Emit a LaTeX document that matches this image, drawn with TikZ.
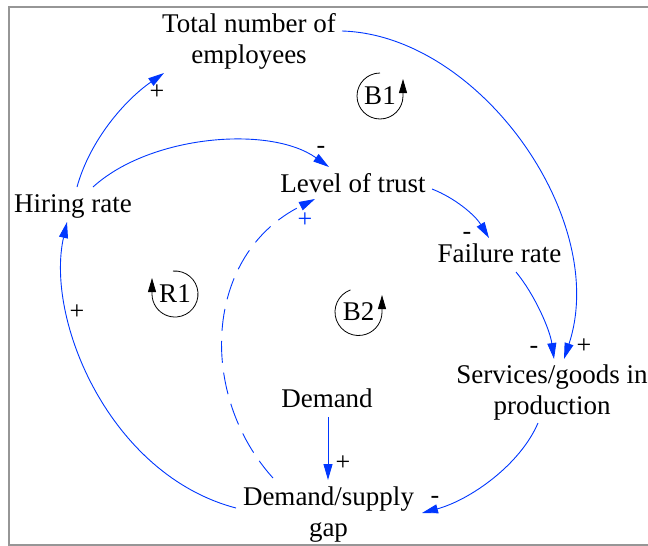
\documentclass[tikz,border=0pt]{standalone}
\usepackage{fontspec}
\setmainfont{Liberation Serif}
\usetikzlibrary{arrows.meta,calc}
\definecolor{linkblue}{RGB}{0,55,255}
\definecolor{framegray}{RGB}{150,150,150}
\tikzset{
  var/.style={inner sep=0pt, anchor=base, align=center, font=\fontsize{27}{31}\selectfont},
  loopname/.style={inner sep=0pt, font=\fontsize{27}{31}\selectfont},
  polarity/.style={inner sep=0pt, anchor=base, font=\fontsize{26}{26}\selectfont},
  link/.style={color=linkblue, line width=0.9pt, -{Triangle[length=16pt,width=9pt]}},
  trustlink/.style={link, dash pattern=on 22pt off 10pt},
  loopmark/.style={color=black, line width=0.8pt, -{Triangle[length=14pt,width=8pt]}},
}
\begin{document}
\begin{tikzpicture}[x=1pt,y=-1pt]
\useasboundingbox (0,0) rectangle (648,546);
% frame, open to the right
\begin{scope}
  \clip (0,0) rectangle (648,546);
  \draw[framegray, line width=2pt] (9,7) rectangle (720,545);
\end{scope}

% variables (base = baseline of the last line)
\node[var] (tot)   at (249,63)   {Total number of\\employees};
\node[var] (trust) at (353,192)  {Level of trust};
\node[var] (hire)  at (73,212)   {Hiring rate};
\node[var] (fail)  at (499.5,262) {Failure rate};
\node[var] (serv)  at (552,414)  {Services/goods in\\production};
\node[var] (dem)   at (327,407)  {Demand};
\node[var] (gap)   at (328.5,536) {Demand/supply\\gap};

% loop labels
\node[loopname] (b1) at (380,96)  {B1};
\node[loopname] (r1) at (175,294) {R1};
\node[loopname] (b2) at (358.5,312) {B2};

% loop markers
\begin{scope}[shift={(b1.center)}, yscale=-1]
  \draw[loopmark] (90:23) arc[start angle=90, end angle=360, radius=23] -- ++(0,17);
\end{scope}
\begin{scope}[shift={(r1.center)}, yscale=-1]
  \draw[loopmark] (95:23) arc[start angle=95, end angle=-180, radius=23] -- ++(0,16);
\end{scope}
\begin{scope}[shift={(b2.center)}, yscale=-1]
  \draw[loopmark] (110:23.5) arc[start angle=110, end angle=360, radius=23.5] -- ++(0,17);
\end{scope}

% causal links
\draw[link] ([shift={(4,-25)}]hire.base) .. controls (90,140) and (125,100) .. ([shift={(-85,10)}]tot.base);
\draw[link] ([shift={(20,-25)}]hire.base) .. controls (150,135) and (270,125) .. ([shift={(-24,-25)}]trust.base);
\draw[link] ([shift={(93,-32)}]tot.base) .. controls (480,35) and (610,220) .. ([shift={(12,-55)}]serv.base);
\draw[link] ([shift={(79,-3)}]trust.base) .. controls (455,198) and (475,215) .. ([shift={(-10.5,-24)}]fail.base);
\draw[link] ([shift={(16.5,10)}]fail.base) .. controls (535,295) and (550,330) .. ([shift={(2,-55)}]serv.base);
\draw[link] ([shift={(-14,9)}]serv.base) .. controls (520,465) and (470,500) .. ([shift={(93.5,-23)}]gap.base);
\draw[link] ([shift={(1,10)}]dem.base) -- ([shift={(-0.5,-56)}]gap.base);
\draw[link] ([shift={(-92.5,-28)}]gap.base) .. controls (110,475) and (45,320) .. ([shift={(-6,10)}]hire.base);
\draw[trustlink] ([shift={(-55.5,-58)}]gap.base) .. controls (198,395) and (203,255) .. ([shift={(-38,7)}]trust.base);

% polarities
\node[polarity] (p1) at (157,99.5)  {+};
\node[polarity] (p2) at (321,153.5) {-};
\node[polarity, text=linkblue] (p3) at (305,227.5) {+};
\node[polarity] (p4) at (467,239.5) {-};
\node[polarity] (p5) at (77,319.5)  {+};
\node[polarity] (p6) at (534,353.5) {-};
\node[polarity] (p7) at (584,353.5) {+};
\node[polarity] (p8) at (343,470.5) {+};
\node[polarity] (p9) at (435,503.5) {-};
\end{tikzpicture}
\end{document}
